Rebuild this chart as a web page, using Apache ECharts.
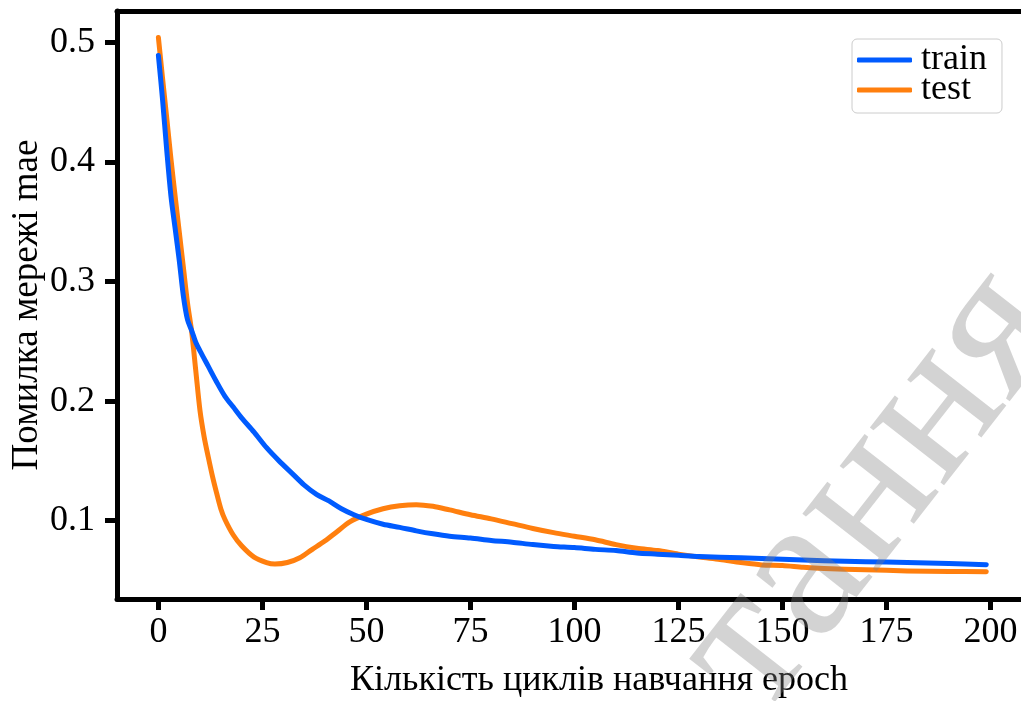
<!DOCTYPE html>
<html>
<head>
<meta charset="utf-8">
<script src="https://cdn.jsdelivr.net/npm/echarts@6/dist/echarts.min.js"></script>
<style>
html,body{margin:0;padding:0;background:#fff;}
#chart{width:1021px;height:701px;}
</style>
</head>
<body>
<div id="chart"></div>
<script>
// ---- data ----
const trainEpochs = [0,1,2,3,4,5,6,7,8,9,10,12,14,16,18,20,23,26,29,32,35,38,41,44,47,50,54,58,62,66,70,75,80,85,90,95,100,105,110,115,120,125,130,140,150,160,170,180,190,199];
const trainMae    = [0.489,0.452,0.410,0.372,0.345,0.318,0.288,0.268,0.259,0.249,0.242,0.229,0.216,0.204,0.195,0.186,0.174,0.161,0.150,0.140,0.130,0.122,0.1165,0.110,0.105,0.101,0.097,0.0944,0.0915,0.089,0.087,0.0855,0.0835,0.082,0.080,0.0785,0.0775,0.076,0.075,0.073,0.072,0.071,0.070,0.069,0.0678,0.0665,0.0657,0.065,0.0642,0.0632];
const testEpochs  = [0,1,2,3,4,5,6,7,8,9,10,11,12,13,14,15,16,18,20,23,26,28,31,34,37,40,43,46,50,54,58,62,66,70,75,80,85,90,95,100,105,110,115,120,125,130,135,140,145,150,155,160,170,180,190,199];
const testMae     = [0.504,0.470,0.437,0.403,0.372,0.342,0.312,0.282,0.258,0.225,0.192,0.170,0.153,0.137,0.123,0.110,0.101,0.088,0.079,0.0695,0.065,0.0638,0.065,0.069,0.076,0.083,0.091,0.099,0.1055,0.110,0.1125,0.1134,0.112,0.109,0.105,0.1015,0.0975,0.0935,0.090,0.087,0.084,0.080,0.077,0.075,0.072,0.0695,0.0675,0.065,0.063,0.0625,0.061,0.060,0.059,0.058,0.0575,0.0573];
const xTicks = [0,25,50,75,100,125,150,175,200];
const yTicks = [0.1,0.2,0.3,0.4,0.5];
const seriesNames = ['train','test'];
const xTitle = 'Кількість циклів навчання epoch';
const yTitle = 'Помилка мережі mae';
const watermark = 'тання';

const FONT = '"Liberation Serif", "Times New Roman", serif';
const XMIN = -9.95, XMAX = 207.35, YMIN = 0.0345, YMAX = 0.5262;

const chart = echarts.init(document.getElementById('chart'), null, {renderer:'canvas'});
const pair = (xs, ys) => xs.map((x,i)=>[x, ys[i]]);

chart.setOption({
  animation:false,
  backgroundColor:'#fff',
  grid:{left:117, right:0, top:11, bottom:102, containLabel:false, outerBoundsMode:'none'},
  legend:{
    data:seriesNames,
    orient:'vertical',
    left:852, top:39,
    icon:'roundRect',
    itemWidth:55, itemHeight:5,
    itemGap:-6,
    padding:[3,15,5,5],
    backgroundColor:'#fff',
    borderColor:'#cccccc', borderWidth:1, borderRadius:5,
    textStyle:{fontFamily:FONT, fontSize:36, color:'#000', lineHeight:31, padding:[0,0,0,4]}
  },
  xAxis:[{
    type:'value', min:XMIN, max:XMAX, position:'bottom',
    name:xTitle, nameLocation:'middle', nameGap:64,
    nameTextStyle:{fontFamily:FONT, fontSize:36, color:'#000', padding:[0,0,0,60]},
    axisLine:{show:true, onZero:false, lineStyle:{color:'#000', width:5}},
    axisTick:{show:true, length:11, lineStyle:{color:'#000', width:5}, customValues:xTicks},
    axisLabel:{show:true, margin:16, fontFamily:FONT, fontSize:36, color:'#000', customValues:xTicks},
    splitLine:{show:false}
  },{
    type:'value', min:XMIN, max:XMAX, position:'top',
    axisLine:{show:true, onZero:false, lineStyle:{color:'#000', width:5}},
    axisTick:{show:false}, axisLabel:{show:false}, splitLine:{show:false}
  }],
  yAxis:{
    type:'value', min:YMIN, max:YMAX, position:'left',
    name:yTitle, nameLocation:'middle', nameGap:71, nameMoveOverlap:false,
    nameTextStyle:{fontFamily:FONT, fontSize:37, color:'#000'},
    axisLine:{show:true, onZero:false, lineStyle:{color:'#000', width:5}},
    axisTick:{show:true, length:12, lineStyle:{color:'#000', width:5}, customValues:yTicks},
    axisLabel:{show:true, margin:22, fontFamily:FONT, fontSize:36, color:'#000', customValues:yTicks, formatter:v=>v.toFixed(1)},
    splitLine:{show:false}
  },
  series:[{
    name:seriesNames[0], type:'line', data:pair(trainEpochs, trainMae),
    showSymbol:false, symbol:'none', smooth:0.3,
    lineStyle:{color:'#005bff', width:5, cap:'round', join:'round'},
    itemStyle:{color:'#005bff'}, z:3
  },{
    name:seriesNames[1], type:'line', data:pair(testEpochs, testMae),
    showSymbol:false, symbol:'none', smooth:0.3,
    lineStyle:{color:'#ff7f0e', width:5, cap:'round', join:'round'},
    itemStyle:{color:'#ff7f0e'}, z:2
  }],
  graphic:[{
    type:'text', x:872, y:490, rotation:52*Math.PI/180, z:100,
    style:{text:watermark, font:'205px "Liberation Serif", serif', fill:'rgba(128,128,128,0.35)', align:'center', verticalAlign:'middle'}
  }]
});
</script>
</body>
</html>
